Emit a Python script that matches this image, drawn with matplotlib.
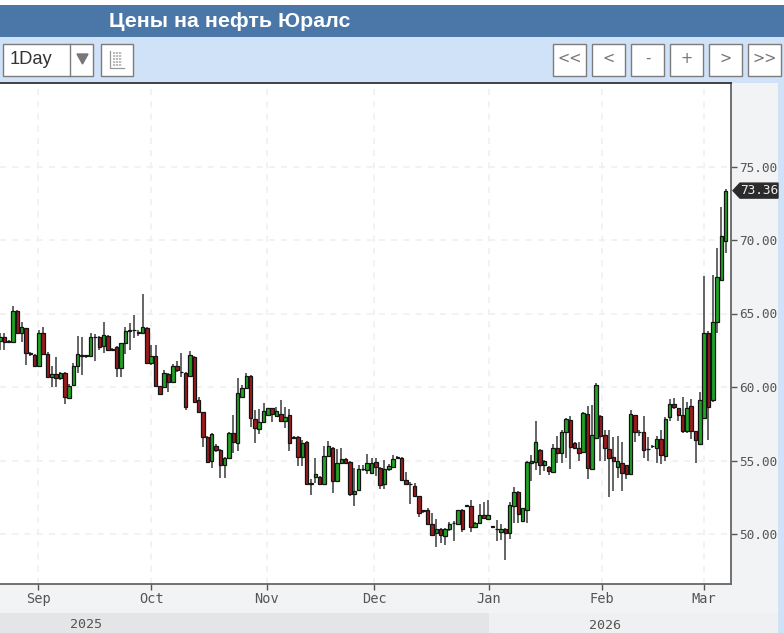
import numpy as np
import matplotlib
matplotlib.use("Agg")
import matplotlib.pyplot as plt
from matplotlib.patches import Rectangle, Polygon

title = "Цены на нефть Юралс"

# daily candles
opens = [63.14,63.41,63.05,63.07,65.18,63.64,63.98,62.32,62.21,61.46,63.68,62.23,60.65,60.87,60.58,60.92,59.26,60.12,61.42,62.12,
         62.12,62.12,63.37,63.37,62.78,63.48,62.55,62.73,61.28,62.96,63.83,63.87,63.70,63.64,64.03,61.60,62.12,60.06,60.01,60.87,
         60.35,61.46,60.99,60.92,60.78,62.05,59.10,58.27,56.61,54.95,56.00,55.70,54.68,55.18,56.84,56.22,59.33,59.90,60.74,57.82,
         57.11,57.64,58.09,58.55,58.02,58.16,57.70,58.07,56.59,56.61,55.25,56.23,53.41,53.89,53.89,53.39,55.30,55.82,53.61,54.80,
         55.11,54.91,52.70,52.98,54.41,54.34,54.18,54.91,54.50,53.39,54.39,54.57,55.20,55.20,53.66,53.39,53.25,52.57,51.57,51.61,
         50.70,50.07,50.36,49.86,50.36,50.75,50.70,51.66,51.93,51.93,50.48,50.75,51.32,51.05,50.50,50.32,50.14,50.36,50.09,51.90,
         52.85,50.90,51.63,54.80,54.89,55.70,54.66,54.57,54.23,55.88,55.48,56.92,57.74,56.20,55.88,55.59,58.14,54.41,56.54,58.03,
         56.72,55.79,55.25,54.57,54.84,54.68,54.05,58.08,56.95,56.92,55.75,55.97,55.88,56.43,55.34,57.96,58.87,58.57,58.12,56.99,
         58.69,56.99,56.11,57.86,63.70,59.11,64.39,67.25,69.93]
highs = [63.70,63.70,63.20,65.54,65.25,64.39,64.00,62.40,62.25,63.90,64.09,62.40,61.42,62.05,61.00,61.00,60.20,61.65,63.46,63.41,
         62.20,63.70,63.60,63.45,64.39,63.55,62.65,62.80,63.00,64.09,64.35,64.90,63.90,66.36,64.10,62.85,62.85,60.10,61.15,60.95,
         61.55,61.80,62.28,61.00,62.45,62.10,59.30,58.30,56.65,56.85,56.15,55.75,55.25,56.95,58.08,60.62,60.15,60.92,60.80,58.43,
         58.48,58.89,58.60,58.60,58.66,59.11,58.66,58.48,56.65,56.70,56.39,56.30,53.77,55.20,53.95,56.02,56.34,55.90,55.75,55.82,
         55.20,55.00,54.50,54.68,54.68,55.43,55.14,55.14,54.55,55.02,54.75,55.40,55.30,55.25,54.23,53.55,53.48,52.60,51.65,51.75,
         51.43,51.00,50.40,50.40,50.80,50.89,51.65,51.70,52.00,52.34,50.80,52.02,52.20,52.34,50.55,50.93,50.70,50.40,52.19,53.17,
         52.90,51.80,54.95,55.36,57.67,55.75,55.05,54.60,56.11,56.67,57.10,57.90,58.03,56.25,56.27,58.30,58.69,58.80,60.29,58.10,
         57.06,57.06,56.60,56.65,56.27,54.70,58.46,58.10,57.10,58.00,56.60,56.05,56.65,57.06,57.95,59.21,59.28,58.60,59.32,58.98,
         59.21,57.03,59.66,67.52,63.80,67.59,69.45,72.23,73.45]
lows = [62.50,62.55,63.00,63.05,63.60,63.07,61.49,62.10,61.40,61.40,62.17,60.60,60.01,60.01,60.50,58.81,59.20,60.05,60.92,60.80,
        62.00,62.10,61.78,62.50,62.32,62.45,62.45,60.65,60.65,62.23,62.55,63.30,63.50,63.60,61.55,61.50,60.00,59.45,59.90,59.67,
        60.30,61.05,60.65,58.42,60.70,58.95,58.20,55.93,54.85,54.52,55.60,53.82,53.82,55.10,55.48,55.63,59.25,59.85,57.29,56.20,
        56.80,57.57,58.00,57.61,57.95,57.60,57.18,55.66,56.50,54.61,54.61,53.30,52.68,53.48,53.35,53.35,55.25,52.80,53.55,54.75,
        54.75,52.60,51.89,52.90,54.30,54.11,54.10,53.93,53.09,53.09,54.30,54.50,55.10,53.60,53.30,52.07,52.50,51.16,51.45,50.60,
        49.86,49.11,49.39,49.25,50.20,49.52,50.60,50.14,51.85,50.14,50.40,50.70,51.05,51.00,50.45,49.52,49.61,48.20,49.66,50.77,
        50.77,50.85,50.77,53.62,54.34,54.00,54.30,54.00,54.20,54.84,54.80,55.14,54.41,55.80,54.98,55.50,53.71,54.35,56.50,55.00,
        54.98,52.53,52.94,53.78,52.94,53.71,54.00,56.27,56.70,55.20,55.00,55.85,54.80,54.75,55.00,57.67,58.50,57.67,56.90,56.90,
        56.49,54.84,56.05,57.80,56.38,59.00,63.66,67.20,69.11]
closes = [63.41,63.07,63.10,65.18,63.64,64.05,62.32,62.25,61.46,63.68,62.23,60.65,60.87,60.58,60.92,59.33,60.08,61.42,62.23,62.15,
          62.12,63.37,63.37,62.69,63.57,62.51,62.55,61.28,62.96,63.78,63.83,63.87,63.68,64.05,61.60,62.12,60.06,59.51,60.92,60.35,
          61.46,61.19,60.99,58.61,62.17,58.99,58.27,56.61,54.91,56.77,55.70,54.68,55.18,56.88,56.27,59.60,59.90,60.74,57.86,57.18,
          57.64,58.36,58.55,58.16,58.36,57.70,57.93,56.20,56.55,55.25,56.20,53.39,53.41,54.11,53.39,55.30,56.02,53.61,54.86,55.07,
          54.86,52.70,52.93,54.39,54.41,54.86,54.86,54.57,53.32,54.39,54.61,55.11,55.20,53.66,53.39,53.39,52.57,51.45,51.57,50.66,
          49.95,50.36,49.91,50.36,50.70,50.75,51.61,50.36,51.93,50.48,50.75,51.32,51.11,51.32,50.50,50.32,50.36,50.07,51.97,52.85,
          51.33,51.74,54.89,54.98,56.24,54.68,54.98,54.28,55.88,55.48,56.95,57.85,55.93,55.88,55.52,58.24,54.46,56.72,60.11,56.67,
          55.84,55.18,54.98,54.98,54.16,54.07,58.14,56.92,56.92,55.70,55.75,55.97,56.43,55.36,57.83,58.87,58.64,58.12,56.99,58.57,
          56.99,56.38,59.14,63.70,58.66,64.39,67.45,70.25,73.36]
opens = np.array(opens)
highs = np.array(highs)
lows = np.array(lows)
closes = np.array(closes)

# month labels sit at these candle numbers
months = ["Sep", "Oct", "Nov", "Dec", "Jan", "Feb", "Mar"]
month_pos = [8.8, 35.0, 61.8, 86.6, 113.2, 139.4, 163.0]
price_ticks = [50, 55, 60, 65, 70, 75]

W, H = 784, 633
fig = plt.figure(figsize=(W / 100, H / 100), dpi=100, facecolor="white")

# the page around the chart, drawn in pixel coordinates
page = fig.add_axes([0, 0, 1, 1], zorder=0)
page.set_xlim(0, W)
page.set_ylim(H, 0)
page.axis("off")


def box(x0, y0, x1, y1, color, edge="none", lw=0):
    page.add_patch(Rectangle((x0, y0), x1 - x0, y1 - y0, facecolor=color, edgecolor=edge, linewidth=lw))


box(0, 37, W, H, "#cfe2f8")
box(0, 5, W, 37, "#4a77a8")
page.text(109, 21.5, title, color="white", fontsize=15.4, fontweight="bold",
          family="Liberation Sans", va="center", ha="left")

# selector and buttons
edge = "#7c7c7c"
box(3, 43.5, 93, 75.5, "white", edge, 1)
page.plot([70.5, 70.5], [43.5, 75.5], color=edge, lw=1)
page.text(10, 59.5, "1Day", fontsize=13.2, family="Liberation Sans", color="#333333", va="center")
page.add_patch(Polygon([(77, 54), (88, 54), (82.5, 64)], color="#777777"))
box(101.5, 43.5, 133.5, 75.5, "white", edge, 1)
page.plot([110.5, 110.5, 124.5], [51, 68, 68], color="#999999", lw=0.9)
for yy in [53, 56, 59, 62, 65]:
    page.plot([113, 122.5], [yy, yy], color="#aaaaaa", lw=1.1, ls=(0, (1.4, 0.5)))

nav = ["<<", "<", "-", "+", ">", ">>"]
nav_x = [553, 592, 631, 670, 709, 748]
for lab, xx in zip(nav, nav_x):
    box(xx + 0.5, 43.5, xx + 33, 75.5, "white", edge, 1)
    page.text(xx + 16.7, 58.5, lab, fontsize=10.5, family="DejaVu Sans", color="#777777", ha="center", va="center")

# panels for the axes
box(731, 83, 778, 613, "#f2f3f5")
box(0, 584, 778, 613, "#f2f3f5")
box(0, 613, 489, H, "#e4e5e7")
box(489, 613, 778, H, "#eff0f2")
mono = "DejaVu Sans Mono"
page.text(86, 624, "2025", fontsize=9.6, family=mono, color="#555555", ha="center", va="center")
page.text(605, 625.5, "2026", fontsize=9.6, family=mono, color="#555555", ha="center", va="center")

# the chart itself
ax = fig.add_axes([0, 1 - 584 / H, 731 / W, (584 - 83) / H], zorder=1, facecolor="white")
step = 4.32
ax.set_xlim(0, 731 / step)
ax.set_ylim(50 - 50 / 14.7, 50 + 451 / 14.7)

x = np.arange(len(closes))
up = closes >= opens
ax.vlines(x, lows, highs, color="#4a4a4a", lw=1.2, zorder=3)
ax.bar(x, np.maximum(np.abs(closes - opens), 0.03), bottom=np.minimum(opens, closes), width=0.8,
       color=np.where(up, "#20a524", "#a01a1c"), edgecolor="#141414", linewidth=0.9, zorder=4)

ax.set_xticks(month_pos, months)
ax.set_yticks(price_ticks, ["%.2f" % p for p in price_ticks])
ax.yaxis.tick_right()
ax.grid(True, color="#efefef", lw=1.1, ls=(0, (4, 4)))
ax.set_axisbelow(True)
ax.tick_params(axis="x", length=4, width=1, color="#555555", labelcolor="#555555", labelsize=9.8, pad=1.5)
ax.tick_params(axis="y", length=4, width=1, color="#555555", labelcolor="#555555", labelsize=9.2, pad=2)
for lab in ax.get_xticklabels() + ax.get_yticklabels():
    lab.set_family(mono)
ax.spines["left"].set_visible(False)
for side, c in [("top", "#333333"), ("right", "#666666"), ("bottom", "#666666")]:
    ax.spines[side].set_color(c)
    ax.spines[side].set_linewidth(1.3)

# last price tag
fig.canvas.draw()
yy = H - ax.transData.transform((0, closes[-1]))[1]
page.add_patch(Polygon([(733, yy), (740, yy - 7.5), (778, yy - 7.5), (778, yy + 7.5), (740, yy + 7.5)],
                       color="#2b2b2b", zorder=5))
page.text(759, yy + 0.3, "%.2f" % closes[-1], fontsize=9.2, family=mono, color="#eeeeee",
          ha="center", va="center", zorder=6)

fig.savefig("out.png", dpi=100)
